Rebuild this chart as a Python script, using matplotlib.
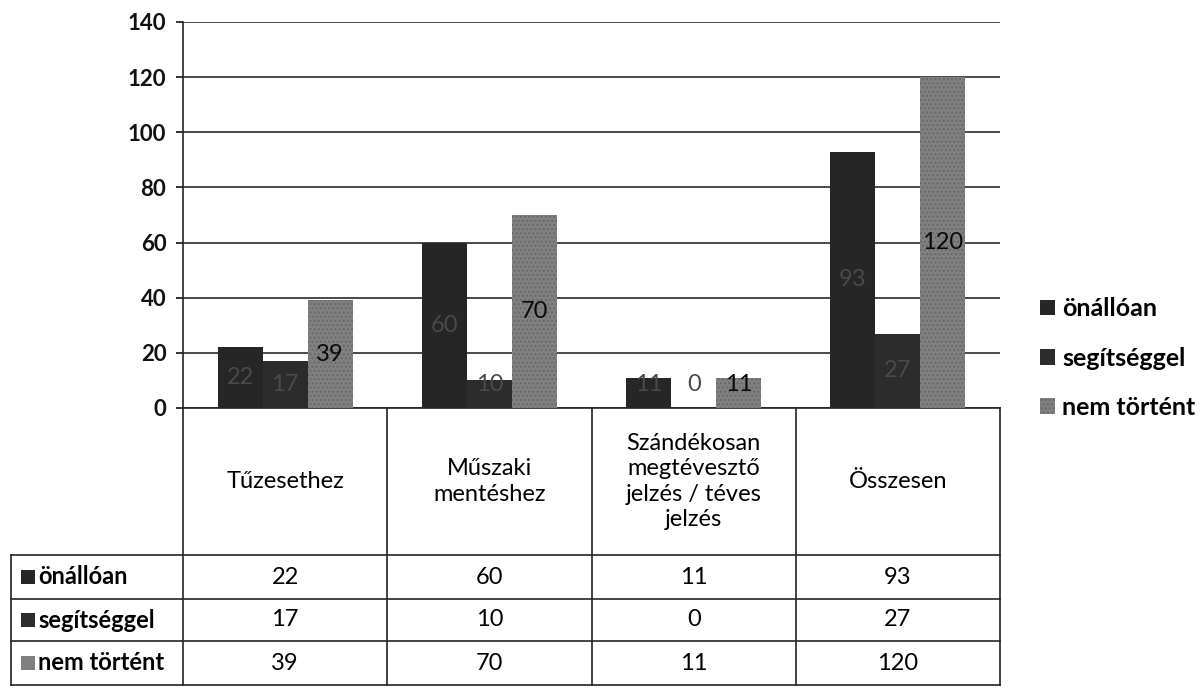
import numpy as np
import matplotlib.pyplot as plt

plt.rcParams['font.family'] = ['Lato', 'DejaVu Sans']

# adatok (a táblázatból leolvasva)
categories = ["Tűzesethez", "Műszaki\nmentéshez",
              "Szándékosan\nmegtévesztő\njelzés / téves\njelzés", "Összesen"]
series_names = ["önállóan", "segítséggel", "nem történt"]
onalloan = [22, 60, 11, 93]
segitseggel = [17, 10, 0, 27]
nem_tortent = [39, 70, 11, 120]
y_ticks = [0, 20, 40, 60, 80, 100, 120, 140]

series = [onalloan, segitseggel, nem_tortent]
colors = ["#262626", "#2c2c2c", "#808080"]
label_colors = ["#4a4a4a", "#4a4a4a", "#0a0a0a"]

FS = 17
W, H = 1204, 690
fig = plt.figure(figsize=(W / 100, H / 100), dpi=100)

# plot area in pixel coords of the scan
x0, x1 = 183, 1000
ytop, yzero = 22, 408
ax = fig.add_axes([x0 / W, 1 - yzero / H, (x1 - x0) / W, (yzero - ytop) / H])

x = np.arange(len(categories))
bw = 0.22
for i, vals in enumerate(series):
    b = ax.bar(x + (i - 1) * bw, vals, bw, color=colors[i], label=series_names[i],
               linewidth=0, zorder=3)
    if i == 2:
        for p in b:
            p.set_hatch('....')
            p.set_edgecolor('#686868')
    for xi, v in zip(x, vals):
        ax.text(xi + (i - 1) * bw, max(v / 2, 8.5), str(v), ha='center', va='center',
                fontsize=FS, color=label_colors[i], zorder=4)

ax.set_xlim(-0.5, len(categories) - 0.5)
ax.set_ylim(0, 140)
ax.set_yticks(y_ticks)
ax.set_yticklabels([str(t) for t in y_ticks], fontsize=16, fontweight='bold')
ax.set_xticks([])
ax.tick_params(axis='y', direction='out', length=5, width=1.2, pad=7, colors='#111111')
ax.yaxis.grid(True, color='#2a2a2a', linewidth=1.2, zorder=0)
ax.set_axisbelow(True)
for s in ['top', 'right', 'bottom']:
    ax.spines[s].set_visible(False)
ax.spines['left'].set_linewidth(1.2)
ax.spines['left'].set_color('#222222')

# adattábla az ábra alatt
trans = ax.get_xaxis_transform()
ppx = (yzero - ytop)
def fy(py):
    return (yzero - py) / ppx

row_lines = [555, 599, 641, 685]
unit = (x1 - x0) / len(categories)
x_left = -0.5 - (x0 - 11) / unit
lc = '#222222'
lw = 1.2
# függőleges vonalak
for k in range(len(categories) + 1):
    ax.plot([k - 0.5, k - 0.5], [0, fy(row_lines[-1])], color=lc, lw=lw,
            transform=trans, clip_on=False)
ax.plot([x_left, x_left], [fy(row_lines[0]), fy(row_lines[-1])], color=lc, lw=lw,
        transform=trans, clip_on=False)
ax.plot([-0.5, len(categories) - 0.5], [0, 0], color=lc, lw=lw,
        transform=trans, clip_on=False)
for ry in row_lines:
    ax.plot([x_left, len(categories) - 0.5], [fy(ry), fy(ry)], color=lc, lw=lw,
            transform=trans, clip_on=False)

# kategória fejléc
for xi, c in zip(x, categories):
    ax.text(xi, fy((yzero + row_lines[0]) / 2), c, ha='center', va='center',
            fontsize=FS, linespacing=1.25, transform=trans, clip_on=False)

# sorok
for r, (name, vals) in enumerate(zip(series_names, series)):
    yc = fy((row_lines[r] + row_lines[r + 1]) / 2)
    ax.scatter([-0.5 - (x0 - 28) / unit], [yc], marker='s', s=110, color=colors[r],
               transform=trans, clip_on=False, linewidths=0)
    ax.text(-0.5 - (x0 - 38) / unit, yc, name, ha='left', va='center', fontsize=17,
            fontweight='bold', transform=trans, clip_on=False)
    for xi, v in zip(x, vals):
        ax.text(xi, yc, str(v), ha='center', va='center', fontsize=FS,
                transform=trans, clip_on=False)

# jelmagyarázat
ax.legend(loc='center left', bbox_to_anchor=((1040 - x0) / (x1 - x0), fy(358)),
          frameon=False, prop={'weight': 'bold', 'size': 18},
          handlelength=0.6, handleheight=0.6, handletextpad=0.3, labelspacing=1.05,
          borderpad=0, borderaxespad=0)

fig.savefig('out.png', dpi=100)
